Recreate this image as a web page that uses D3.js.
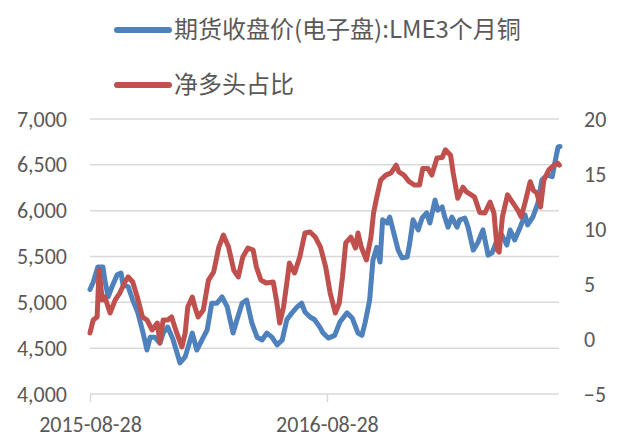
<!DOCTYPE html>
<html>
<head>
<meta charset="utf-8">
<script src="https://cdn.jsdelivr.net/npm/d3@7"></script>
<style>
  body { margin: 0; background: #fff; }
  svg { display: block; }
</style>
</head>
<body>
<div id="chart-area"></div>
<script>
const W = 624, H = 437
const PLOT = { LEFT: 90, RIGHT: 560, TOP: 119, BOTTOM: 394 }

const seriesNames = ["期货收盘价(电子盘):LME3个月铜", "净多头占比"]
const seriesColors = ["#4F81BD", "#C0504D"]

// LME 3-month copper close
const priceDates = ["2015-08-28","2015-09-02","2015-09-09","2015-09-17","2015-09-20","2015-09-25","2015-10-01","2015-10-09","2015-10-15","2015-10-18",
 "2015-10-26","2015-11-02","2015-11-10","2015-11-18","2015-11-24","2015-11-29","2015-12-06","2015-12-14","2015-12-19","2015-12-26",
 "2016-01-03","2016-01-14","2016-01-22","2016-02-02","2016-02-09","2016-02-17","2016-02-25","2016-03-03","2016-03-11","2016-03-19",
 "2016-03-27","2016-04-05","2016-04-11","2016-04-19","2016-04-26","2016-05-04","2016-05-12","2016-05-20","2016-05-27","2016-06-04",
 "2016-06-12","2016-06-20","2016-06-27","2016-07-05","2016-07-13","2016-07-20","2016-07-25","2016-08-02","2016-08-09","2016-08-17",
 "2016-08-22","2016-08-30","2016-09-09","2016-09-17","2016-09-28","2016-10-06","2016-10-15","2016-10-21","2016-10-26","2016-11-02",
 "2016-11-07","2016-11-13","2016-11-18","2016-11-22","2016-11-29","2016-12-03","2016-12-08","2016-12-16","2016-12-22","2016-12-30",
 "2017-01-03","2017-01-08","2017-01-16","2017-01-22","2017-01-29","2017-02-03","2017-02-11","2017-02-15","2017-02-22","2017-02-26",
 "2017-03-03","2017-03-09","2017-03-17","2017-03-21","2017-03-29","2017-04-03","2017-04-11","2017-04-18","2017-04-26","2017-05-04",
 "2017-05-10","2017-05-18","2017-05-25","2017-06-02","2017-06-07","2017-06-14","2017-06-22","2017-06-30","2017-07-04","2017-07-12",
 "2017-07-20","2017-07-26","2017-08-03","2017-08-11","2017-08-15","2017-08-20","2017-08-23"]
const priceValues = [5140,5220,5385,5385,5240,5060,5170,5300,5320,5190,
 5170,5025,4885,4665,4480,4620,4620,4555,4665,4730,
 4600,4340,4405,4665,4480,4590,4700,4990,4990,5060,
 4950,4665,4810,4990,5025,4775,4620,4590,4665,4620,
 4535,4590,4810,4885,4950,4990,4895,4840,4810,4730,
 4665,4610,4640,4785,4885,4830,4665,4640,4780,5025,
 5460,5600,5440,5900,5865,5930,5790,5570,5485,5495,
 5650,5900,5790,5920,5975,5865,6115,6005,6040,5930,
 5820,5930,5820,5900,5920,5820,5570,5650,5790,5515,
 5540,5680,5735,5625,5790,5680,5810,5955,5845,5930,
 6085,6335,6390,6370,6520,6695,6700]

// net long ratio (right axis)
const ratioDates = ["2015-08-28","2015-09-02","2015-09-08","2015-09-11","2015-09-16","2015-09-20","2015-09-28","2015-10-06","2015-10-13","2015-10-21",
 "2015-10-26","2015-11-02","2015-11-09","2015-11-17","2015-11-24","2015-12-02","2015-12-10","2015-12-14","2015-12-19","2015-12-26",
 "2016-01-01","2016-01-09","2016-01-17","2016-01-22","2016-01-26","2016-02-02","2016-02-06","2016-02-11","2016-02-19","2016-02-27",
 "2016-03-06","2016-03-14","2016-03-21","2016-03-29","2016-04-06","2016-04-13","2016-04-20","2016-04-28","2016-05-06","2016-05-11",
 "2016-05-18","2016-05-26","2016-06-06","2016-06-11","2016-06-16","2016-06-22","2016-06-27","2016-07-01","2016-07-09","2016-07-17",
 "2016-07-25","2016-08-02","2016-08-10","2016-08-18","2016-08-26","2016-09-02","2016-09-10","2016-09-16","2016-09-21","2016-09-26",
 "2016-10-04","2016-10-11","2016-10-15","2016-10-20","2016-10-28","2016-11-04","2016-11-08","2016-11-13","2016-11-19","2016-11-27",
 "2016-12-05","2016-12-13","2016-12-17","2016-12-25","2017-01-02","2017-01-10","2017-01-18","2017-01-23","2017-01-31","2017-02-06",
 "2017-02-14","2017-02-22","2017-02-27","2017-03-07","2017-03-11","2017-03-18","2017-03-26","2017-03-31","2017-04-08","2017-04-13",
 "2017-04-21","2017-04-29","2017-05-07","2017-05-13","2017-05-18","2017-05-21","2017-05-26","2017-06-03","2017-06-11","2017-06-19",
 "2017-06-24","2017-06-30","2017-07-08","2017-07-13","2017-07-18","2017-07-24","2017-07-29","2017-08-06","2017-08-14","2017-08-19",
 "2017-08-22"]
const ratioValues = [0.55,1.73,2.0,6.27,3.55,3.82,2.36,3.55,4.18,5.18,
 5.64,5.18,3.82,2.0,1.73,0.82,1.45,-0.36,1.73,1.73,
 2.0,0.55,-0.73,0.55,2.91,3.82,2.91,2.0,2.64,5.36,
 6.09,8.36,9.45,8.36,6.27,5.64,7.45,8.27,8.09,6.55,
 5.36,5.09,5.18,3.55,1.45,2.91,5.09,6.9,6.0,7.45,
 9.64,9.73,9.27,8.36,6.55,4.18,2.36,3.27,5.64,8.73,
 9.27,8.27,9.64,8.36,7.18,9.27,11.45,12.9,14.45,14.9,
 15.1,15.8,15.2,14.9,14.3,14.0,14.0,15.5,15.5,14.9,
 16.45,16.5,17.2,16.7,15.1,12.8,13.8,13.4,13.1,12.9,
 11.5,11.45,12.45,11.45,8.1,7.9,11.1,13.1,12.4,11.7,
 11.1,12.4,14.3,13.5,13.3,12.0,14.45,15.4,15.8,16.0,
 15.8]

const leftTicks = [4000, 4500, 5000, 5500, 6000, 6500, 7000]
const rightTicks = [-5, 0, 5, 10, 15, 20]
const xTicks = ["2015-08-28", "2016-08-28"]

const parse = d3.timeParse("%Y-%m-%d")
const fmtDate = d3.timeFormat("%Y-%m-%d")
const AXIS_FONT = "Calibri, Carlito, Lato, sans-serif"
const CJK_FONT = "'Microsoft YaHei', 'Noto Sans CJK SC', sans-serif"
const TEXT_COLOR = "#595959"

const price = priceDates.map((d, i) => ({ date: parse(d), value: priceValues[i] }))
const ratio = ratioDates.map((d, i) => ({ date: parse(d), value: ratioValues[i] }))

const svg = d3.select("#chart-area").append("svg")
  .attr("width", W)
  .attr("height", H)

svg.append("rect").attr("width", W).attr("height", H).attr("fill", "#fff")

const x = d3.scaleTime()
  .domain([parse("2015-08-28"), parse(priceDates[priceDates.length - 1])])
  .range([PLOT.LEFT, PLOT.RIGHT])

const yLeft = d3.scaleLinear()
  .domain([4000, 7000])
  .range([PLOT.BOTTOM, PLOT.TOP])

const yRight = d3.scaleLinear()
  .domain([-5, 20])
  .range([PLOT.BOTTOM, PLOT.TOP])

// gridlines
svg.append("g")
  .selectAll("line")
  .data(leftTicks.slice(1))
  .join("line")
    .attr("x1", PLOT.LEFT)
    .attr("x2", PLOT.RIGHT - 1)
    .attr("y1", d => yLeft(d))
    .attr("y2", d => yLeft(d))
    .attr("stroke", "#D9D9D9")
    .attr("stroke-width", 1.5)

// x axis
const xAxis = svg.append("g")
  .attr("transform", `translate(0, ${PLOT.BOTTOM})`)
  .call(d3.axisBottom(x)
    .tickValues(xTicks.map(parse))
    .tickFormat(fmtDate)
    .tickSize(8)
    .tickSizeOuter(0))
xAxis.select(".domain")
  .attr("d", `M${PLOT.LEFT},0H${PLOT.RIGHT - 1}`)
  .attr("stroke", "#D9D9D9").attr("stroke-width", 1.5)
xAxis.selectAll(".tick line").attr("stroke", "#D9D9D9").attr("stroke-width", 1.5)
xAxis.selectAll(".tick text")
  .attr("y", 38)
  .attr("dy", 0)
  .attr("fill", TEXT_COLOR)
  .style("font-family", AXIS_FONT)
  .style("font-size", "22px")

// left axis
const leftAxis = svg.append("g")
  .attr("transform", `translate(${PLOT.LEFT}, 0)`)
  .call(d3.axisLeft(yLeft).tickValues(leftTicks).tickFormat(d3.format(",")).tickSize(0).tickPadding(23))
leftAxis.select(".domain").remove()
leftAxis.selectAll("text")
  .attr("fill", TEXT_COLOR)
  .style("font-family", AXIS_FONT)
  .style("font-size", "22px")

// right axis
const rightAxis = svg.append("g")
  .attr("transform", `translate(${PLOT.RIGHT}, 0)`)
  .call(d3.axisRight(yRight).tickValues(rightTicks).tickSize(0).tickPadding(24))
rightAxis.select(".domain").remove()
rightAxis.selectAll("text")
  .attr("fill", TEXT_COLOR)
  .style("font-family", AXIS_FONT)
  .style("font-size", "22px")

// lines
const lineLeft = d3.line().x(d => x(d.date)).y(d => yLeft(d.value))
const lineRight = d3.line().x(d => x(d.date)).y(d => yRight(d.value))

svg.append("path")
  .datum(price)
  .attr("d", lineLeft)
  .attr("fill", "none")
  .attr("stroke", seriesColors[0])
  .attr("stroke-width", 5)
  .attr("stroke-linejoin", "round")
  .attr("stroke-linecap", "round")

svg.append("path")
  .datum(ratio)
  .attr("d", lineRight)
  .attr("fill", "none")
  .attr("stroke", seriesColors[1])
  .attr("stroke-width", 5)
  .attr("stroke-linejoin", "round")
  .attr("stroke-linecap", "round")

// legend
const legend = svg.append("g")
seriesNames.forEach((name, i) => {
  const row = legend.append("g").attr("transform", `translate(0, ${30 + i * 55})`)
  row.append("line")
    .attr("x1", 117).attr("x2", 169)
    .attr("stroke", seriesColors[i])
    .attr("stroke-width", 6)
    .attr("stroke-linecap", "round")
  row.append("text")
    .attr("x", 174)
    .attr("y", 0)
    .attr("dy", "0.35em")
    .attr("fill", TEXT_COLOR)
    .style("font-family", CJK_FONT)
    .style("font-size", "24px")
    .text(name)
})
</script>
</body>
</html>
